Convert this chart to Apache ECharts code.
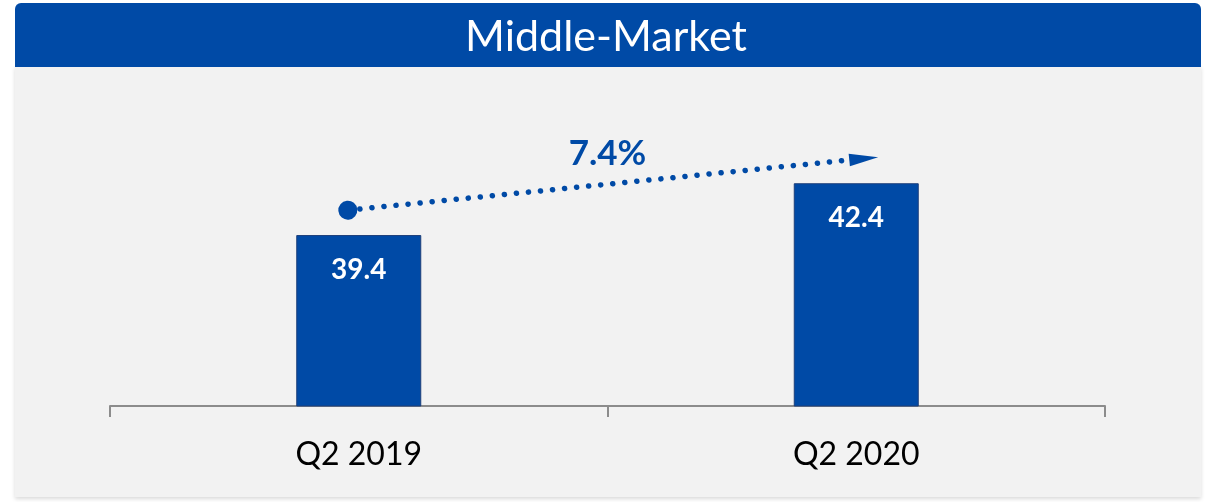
<!DOCTYPE html>
<html><head><meta charset="utf-8">
<script src="https://cdn.jsdelivr.net/npm/echarts@6/dist/echarts.min.js"></script>
<style>html,body{margin:0;padding:0;background:#fff}#c{width:1212px;height:502px}</style>
</head><body><div id="c"></div>
<script>
const titleText = 'Middle-Market';
const categories = ['Q2 2019', 'Q2 2020'];
const values = [39.4, 42.4];
const changeLabel = '7.4%';

const BLUE = '#004AA6';
const FONT = 'Lato, "Open Sans", sans-serif';
const chart = echarts.init(document.getElementById('c'), null, {renderer: 'canvas'});
const arrowStart = [0 - 0.022, values[0] + 1.44];
const arrowEnd = [1 + 0.016, values[1] + 1.43];
const labelPos = [0.5, arrowEnd[1] + 0.3];

chart.setOption({
  animation: false,
  backgroundColor: '#ffffff',
  graphic: [
    {type: 'rect', z: -10, shape: {x: 15, y: 66, width: 1186, height: 431}, style: {fill: '#f2f2f2', shadowBlur: 4, shadowColor: 'rgba(0,0,0,0.15)', shadowOffsetY: 2}},
    {type: 'rect', z: -9, shape: {x: 15, y: 3, width: 1186, height: 64, r: [6, 6, 0, 0]}, style: {fill: BLUE}}
  ],
  title: {
    text: titleText, left: 'center', top: 11,
    textStyle: {color: '#ffffff', fontSize: 43, fontWeight: 'normal', fontFamily: FONT}
  },
  grid: {left: 110, right: 107, top: 52, bottom: 96},
  xAxis: [
    {
      type: 'category', data: categories,
      axisLine: {lineStyle: {color: '#8c8c8c', width: 2}},
      axisTick: {show: true, length: 11, lineStyle: {color: '#8c8c8c', width: 2}},
      axisLabel: {color: '#000', fontSize: 32, fontFamily: FONT, margin: 33}
    },
    {type: 'value', min: -0.5, max: 1.5, show: false}
  ],
  yAxis: {type: 'value', min: 29.5, max: 50, show: false},
  series: [
    {
      type: 'bar', data: values, barWidth: 125,
      itemStyle: {color: BLUE, borderColor: '#1d3f7a', borderWidth: 1},
      label: {show: true, position: 'insideTop', distance: 21, color: '#fff', fontSize: 28, fontWeight: 'bold', fontFamily: FONT}
    },
    {
      type: 'scatter', xAxisIndex: 1, symbolSize: 0, z: 10,
      itemStyle: {opacity: 1, color: BLUE},
      data: [labelPos],
      label: {show: true, position: 'inside', formatter: changeLabel, color: BLUE, fontSize: 35, fontWeight: 'bold', fontFamily: FONT, opacity: 1},
      markLine: {
        silent: true,
        symbol: ['circle', 'path://M0,0 M30,30 M15,1 L25,30 L5,30 Z'],
        symbolSize: [19, 30],
        label: {show: false},
        lineStyle: {color: BLUE, width: 5.5, type: [0.1, 12], cap: 'round', opacity: 1},
        itemStyle: {color: BLUE},
        data: [[{coord: arrowStart}, {coord: arrowEnd}]]
      }
    }
  ]
});
</script></body></html>
